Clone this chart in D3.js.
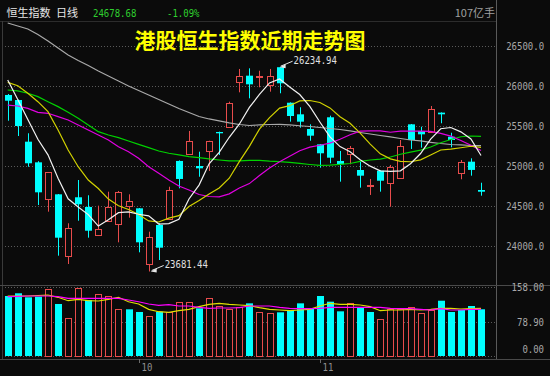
<!DOCTYPE html>
<html><head><meta charset="utf-8">
<script src="https://cdn.jsdelivr.net/npm/d3@7"></script>
<style>html,body{margin:0;padding:0;background:#0b0b0b;overflow:hidden}</style>
</head><body><svg id="c" width="550" height="376"></svg>
<script>
// ---------- data ----------
const openP  = [25888,25825,25304,25046,24584,24646,23871,24609,24488,24134,24321,24271,24500,24471,23771,24263,24334,25063,25150,25000,25188,25425,25479,26054,26129,26109,26021,26234.94,25791,25646,25463,25271,25609,25063,25146,24950,24750,24941,24791,24854,25521,25438,25429,25667,25366,24921,25054,24700];
const highP  = [25900,25830,25409,25060,24921,24650,24284,24825,24634,24504,24679,24688,24646,24475,24179,24284,24741,25070,25438,25179,25316,25430,25804,26213,26221,26191,26213,26234.94,25795,25734,25521,25275,25629,25188,25250,25054,24838,24945,25013,25325,25525,25491,25750,25670,25416,25075,25096,24791];
const lowP   = [25566,25375,24991,24512,24429,23879,23775,24316,24104,24134,24321,24046,24354,23921,23681.44,23825,24334,24721,25150,24866,24938,25138,25479,25921,25846,25984,25929,25909,25554,25479,25316,24979,25034,24804,25021,24729,24638,24679,24491,24854,25213,25229,25429,25534,25234,24834,24879,24629];
const closeP = [25816,25500,25034,24671,24921,24104,24221,24521,24191,24209,24491,24671,24566,24046,24109,23979,24700,24838,25316,24971,25316,25409,25784,26129,26021,26125,26129,26034,25625,25554,25379,25159,25104,25021,25221,24879,24763,24816,24991,25250,25325,25396,25713,25646,25325,25054,24951,24678.68];
const volume = [137.4,143.6,134.4,135.8,153.4,119.1,86.3,155.7,128.2,141.3,137.4,107.6,106.9,100.8,91.6,101.5,101.5,124.4,122.9,109.2,132.8,114.5,107.6,111.5,120.6,100,97.7,100,105.3,120.6,109.2,137.4,124.4,102.3,120.6,110.6,100.8,84.7,106.9,106.9,111.5,99.2,105.3,126.6,100.8,105.3,114.5,107];

const ma5  = [26075,25830,25580,25334,25140,24846,24590,24488,24392,24249,24327,24417,24426,24397,24377,24274,24280,24334,24588,24761,25028,25170,25359,25522,25732,25894,26038,26088,25987,25893,25744,25550,25364,25243,25177,25077,24998,24940,24934,24940,25029,25156,25335,25466,25481,25427,25338,25131];
const ma10 = [26046,26004,25909,25804,25679,25450,25200,24991,24825,24719,24586,24503,24457,24394,24313,24300,24348,24380,24493,24569,24651,24725,24847,25055,25246,25461,25604,25723,25754,25813,25819,25794,25726,25615,25535,25411,25274,25152,25089,25058,25053,25077,25138,25200,25210,25228,25247,25233];
const ma20 = [25762,25750,25721,25671,25659,25617,25575,25513,25450,25388,25325,25241,25179,25096,24991,24909,24825,24750,24700,24644,24619,24614,24652,24725,24780,24881,24976,25052,25123,25191,25235,25259,25286,25335,25391,25436,25439,25438,25422,25435,25436,25435,25432,25408,25373,25319,25260,25193];
const ma30 = [25950,25938,25909,25867,25804,25742,25671,25596,25513,25429,25388,25354,25313,25271,25229,25188,25159,25138,25117,25104,25088,25075,25063,25063,25071,25070,25060,25054,25046,25033,25019,25007,25010,25021,25031,25057,25075,25085,25112,25147,25174,25199,25237,25290,25331,25366,25375,25370];
const ma60 = [26788,26750,26713,26644,26563,26475,26388,26319,26256,26188,26125,26063,26000,25944,25888,25831,25775,25719,25669,25619,25588,25563,25538,25519,25506,25513,25519,25521,25513,25503,25494,25481,25469,25456,25438,25419,25400,25381,25363,25344,25325,25313,25296,25281,25269,25263,25256,25254];
const volMa5  = [137.4,137.4,137.4,138.5,139.7,134.4,126.6,129.8,126.6,125.9,129.8,134.4,124.3,119.1,106.9,101.4,100.1,103.7,106.9,112.9,118.4,120.7,118.4,116.8,115.2,110.6,106.9,105.3,103.7,105.3,106.9,114.5,120.7,118.4,118.4,116.8,112.9,103.7,105.3,105.3,106.9,105.3,106.9,109.2,109.2,107.6,108.3,109.2];
const volMa10 = [135.8,136.7,137.4,137.4,137.4,135.8,132.1,132.1,132.1,132.1,132.1,132.1,128.2,124.3,119.1,116.1,117.5,114.5,114.5,111.5,109.2,109.9,109.9,110.6,114.5,114.5,114.5,111.5,109.2,108.3,108.3,109.2,111.5,111.5,111.5,111.5,111.5,111.5,109.2,108.3,108.3,106.9,105.3,108.3,105.3,105.3,106.9,106.9];

const priceTicks = [26500,26000,25500,25000,24500,24000];
const volTicks = [158, 78.9, 0];
const monthTicks = [{index:13,label:"10"},{index:31,label:"11"}];
const headerName = "恒生指数", headerPeriod = "日线";
const lastClose = "24678.68", changePct = "-1.09%", volUnitLabel = "107亿手";
const chartTitle = "港股恒生指数近期走势图";
const highMark = {index:27, value:26234.94};
const lowMark  = {index:14, value:23681.44};

// ---------- drawing ----------
const BG = "#0b0b0b", UP = "#e84c4c", DOWN = "#00ffff", GRID = "#5a5a5a", AXT = "#a8a8a8";
const MONO = "'DejaVu Sans Mono', 'Liberation Mono', monospace";
const CJK = "'Noto Sans CJK SC', 'Noto Sans', sans-serif";
const svg = d3.select("#c");
svg.append("rect").attr("width",550).attr("height",376).attr("fill",BG);

const n = closeP.length;
const x = d3.scaleLinear().domain([0, n-1]).range([7.7, 481]);
const y = d3.scaleLinear().domain([24000, 26500]).range([246, 46]);
const yv = d3.scaleLinear().domain([0, 158]).range([356, 287]);

// narrow monospace text (about 5.4px per character), stretched vertically
function monoText(g, str, px, py, anchor, color, sy){
  const w = str.length * 5.4;
  const sx = anchor === "end" ? px - w : px;
  return g.append("text").attr("x", 0).attr("y", 0)
    .attr("transform", `translate(${sx},${py}) scale(1,${sy || 1.22})`)
    .attr("font-family", MONO).attr("font-size", 9)
    .attr("fill", color).text(str);
}

// frame lines
svg.append("line").attr("x1",0).attr("x2",496).attr("y1",21.5).attr("y2",21.5).attr("stroke","#2c2c2c");
svg.append("line").attr("x1",2.5).attr("x2",2.5).attr("y1",21).attr("y2",359).attr("stroke","#3a3a3a");
svg.append("line").attr("x1",496.5).attr("x2",496.5).attr("y1",0).attr("y2",359).attr("stroke","#5a5a5a");
svg.append("line").attr("x1",0).attr("x2",550).attr("y1",285.5).attr("y2",285.5).attr("stroke","#4a4a4a");
svg.append("line").attr("x1",0).attr("x2",550).attr("y1",359.5).attr("y2",359.5).attr("stroke","#4a4a4a");

// gridlines
const grid = svg.append("g");
priceTicks.forEach(t => {
  const yy = Math.round(y(t)) + 0.5;
  grid.append("line").attr("x1",5).attr("x2",496).attr("y1",yy).attr("y2",yy)
    .attr("stroke",GRID).attr("stroke-dasharray","1,2");
});
volTicks.forEach(t => {
  const yy = Math.round(yv(t)) + 0.5;
  grid.append("line").attr("x1",5).attr("x2",496).attr("y1",yy).attr("y2",yy)
    .attr("stroke",GRID).attr("stroke-dasharray","1,2");
});

// right axis labels
const ax = svg.append("g");
priceTicks.forEach(t => monoText(ax, d3.format(".1f")(t), 544, y(t)+4, "end", AXT));
volTicks.forEach((t,k) => {
  const yy = k === volTicks.length-1 ? yv(t) - 7 : yv(t);
  monoText(ax, d3.format(".2f")(t), 544, yy+4, "end", AXT);
});

// x axis month ticks
monthTicks.forEach(m => {
  const xx = Math.round(x(m.index)) + 0.5;
  ax.append("line").attr("x1",xx).attr("x2",xx).attr("y1",359).attr("y2",363).attr("stroke","#6a6a6a");
  monoText(ax, m.label, xx+2, 371, "start", "#909090");
});

// clip for price panel
svg.append("clipPath").attr("id","pc").append("rect").attr("x",3).attr("y",22).attr("width",493).attr("height",263);

// candles
const cg = svg.append("g").attr("clip-path","url(#pc)");
d3.range(n).forEach(i => {
  const cx = Math.round(x(i));
  const up = closeP[i] > openP[i];
  const col = up ? UP : DOWN;
  cg.append("line").attr("x1",cx+0.5).attr("x2",cx+0.5)
    .attr("y1",y(highP[i])).attr("y2",y(lowP[i])).attr("stroke",col).attr("stroke-width",1);
  const top = y(Math.max(openP[i], closeP[i])), bot = y(Math.min(openP[i], closeP[i]));
  const h = Math.max(1, bot - top);
  if (up) {
    cg.append("rect").attr("x",cx-2.5).attr("y",Math.round(top)+0.5).attr("width",6).attr("height",Math.max(1,Math.round(h)))
      .attr("fill",BG).attr("stroke",col).attr("stroke-width",1);
  } else {
    cg.append("rect").attr("x",cx-3).attr("y",top).attr("width",7).attr("height",h).attr("fill",col);
  }
});

// volume bars (colour by close versus previous close)
const vg = svg.append("g");
d3.range(n).forEach(i => {
  const cx = Math.round(x(i));
  const prev = i > 0 ? closeP[i-1] : openP[i];
  const up = closeP[i] > prev;
  const top = yv(volume[i]), bot = yv(0);
  if (up) {
    vg.append("rect").attr("x",cx-2.5).attr("y",Math.round(top)+0.5).attr("width",6).attr("height",Math.round(bot-top))
      .attr("fill",BG).attr("stroke",UP).attr("stroke-width",1);
  } else {
    vg.append("rect").attr("x",cx-3).attr("y",top).attr("width",7).attr("height",bot-top).attr("fill",DOWN);
  }
});

// MA lines
const lineP = d3.line().x((d,i)=>x(i)).y(d=>y(d));
const lg = svg.append("g").attr("clip-path","url(#pc)").attr("fill","none");
[[ma60,"#a9a9a9"],[ma30,"#00d200"],[ma20,"#e000e0"],[ma10,"#d2d200"],[ma5,"#f2f2f2"]].forEach(([arr,c]) => {
  lg.append("path").attr("d", lineP(arr)).attr("stroke", c).attr("stroke-width", 1.2);
});
const lineV = d3.line().x((d,i)=>x(i)).y(d=>yv(d));
const vlg = svg.append("g").attr("fill","none");
vlg.append("path").attr("d", lineV(volMa5)).attr("stroke","#e0e000").attr("stroke-width",1.2);
vlg.append("path").attr("d", lineV(volMa10)).attr("stroke","#ff00ff").attr("stroke-width",1.2);

// high / low annotations
function mark(m, dx){
  const px = x(m.index) + 1, py = y(m.value);
  const g = svg.append("g");
  g.append("path").attr("d", `M${px+dx},${py-1} Q${px+dx+5},${py-3} ${px+dx+12},${py-6}`)
    .attr("stroke","#e8e8e8").attr("fill","none").attr("stroke-width",1);
  g.append("path").attr("d", `M${px+dx-1},${py} L${px+dx+5},${py-3} L${px+dx+5},${py+1} Z`).attr("fill","#e8e8e8");
  monoText(g, d3.format(".2f")(m.value), px+dx+13, py-3, "start", "#e0e0e0");
}
mark(highMark, 0);
mark(lowMark, 2);

// header
svg.append("text").attr("x",6.5).attr("y",17).attr("font-family",CJK).attr("font-size",11).attr("fill","#e6e6e6").text(headerName);
svg.append("text").attr("x",56).attr("y",17).attr("font-family",CJK).attr("font-size",11).attr("fill","#e6e6e6").text(headerPeriod);
monoText(svg, lastClose, 93, 16.5, "start", "#2fd02f", 1.12);
monoText(svg, changePct, 167, 16.5, "start", "#2fd02f", 1.12);
svg.append("text").attr("x",495).attr("y",17).attr("text-anchor","end").attr("font-family",CJK).attr("font-size",11).attr("fill","#a0a0a0").text(volUnitLabel);

// title
svg.append("text").attr("x",250).attr("y",48).attr("text-anchor","middle").attr("font-family",CJK)
  .attr("font-weight","bold").attr("font-size",21).attr("fill","#ffff00").text(chartTitle);
</script></body></html>
